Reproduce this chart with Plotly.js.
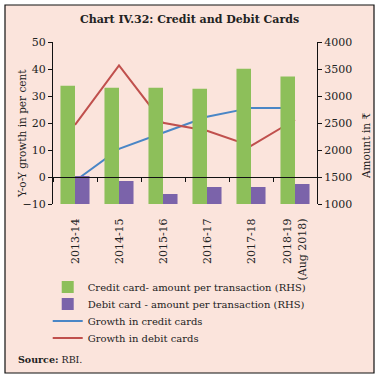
<!DOCTYPE html>
<html><head><meta charset="utf-8">
<script src="https://cdn.plot.ly/plotly-3.0.1.min.js"></script>
<style>html,body{margin:0;padding:0;background:#fff;}#c{width:379px;height:379px;}</style>
</head><body><div id="c"></div>
<script>
const categories = ["2013-14","2014-15","2015-16","2016-17","2017-18","2018-19<br>(Aug 2018)"];
const creditAmount = [3190, 3155, 3155, 3135, 3505, 3360];
const debitAmount = [1520, 1425, 1185, 1315, 1315, 1370];
const creditGrowth = [-1.5, 10.4, 16.4, 22.3, 25.6, 25.6];
const debitGrowth = [19.3, 41.3, 20.1, 17.1, 11.5, 21.2];
const leftTicks = [-10, 0, 10, 20, 30, 40, 50];
const rightTicks = [1000, 1500, 2000, 2500, 3000, 3500, 4000];

const serif = "DejaVu Serif";
const pink = "#fbe4dc";
const traces = [
  {type:"bar", name:"Credit card- amount per transaction (RHS)", x:categories, y:creditAmount, yaxis:"y2", marker:{color:"#8dbf5a"}, legend:"legend"},
  {type:"bar", name:"Debit card - amount per transaction (RHS)", x:categories, y:debitAmount, yaxis:"y2", marker:{color:"#7b63aa"}, legend:"legend2"},
  {type:"scatter", mode:"lines", name:"Growth in credit cards", x:categories, y:creditGrowth, line:{color:"#4a86c6", width:2}, legend:"legend3"},
  {type:"scatter", mode:"lines", name:"Growth in debit cards", x:categories, y:debitGrowth, line:{color:"#c0504d", width:2}, legend:"legend4"},
  {type:"scatter", mode:"lines", x:categories, y:creditGrowth, xaxis:"x2", showlegend:false, hoverinfo:"skip", line:{width:0}, opacity:0}
];
function leg(cy){
  return {x:-0.02, y:-(cy-204)/162, xanchor:"left", yanchor:"middle", bgcolor:"rgba(0,0,0,0)", borderwidth:0, font:{family:serif, size:10, color:"#222"}, itemwidth:30};
}
const layout = {
  width:379, height:379,
  margin:{l:53, r:62, t:42, b:175, pad:0},
  paper_bgcolor:"#ffffff", plot_bgcolor:"rgba(0,0,0,0)",
  font:{family:serif, size:10, color:"#222"},
  barmode:"group", bargap:0.34, bargroupgap:0,
  showlegend:true,
  legend:leg(287), legend2:leg(304), legend3:leg(321), legend4:leg(338),
  title:{text:"<b>Chart IV.32: Credit and Debit Cards</b>", x:0.5, xref:"container", xanchor:"center", y:1-19/379, yref:"container", yanchor:"middle", font:{family:serif, size:11, color:"#222"}},
  xaxis:{type:"category", showline:false, ticks:"outside", ticklen:9, tickcolor:"rgba(0,0,0,0)", tickangle:-90, tickfont:{family:serif, size:11, color:"#222"}, showgrid:false, zeroline:false},
  xaxis2:{type:"category", overlaying:"x", anchor:"free", position:1/6, showline:true, linecolor:"#111", linewidth:1, ticks:"outside", ticklen:4, tickcolor:"#111", tickson:"boundaries", showticklabels:false, showgrid:false, zeroline:false, matches:"x"},
  yaxis:{range:[-10,50], tickvals:leftTicks, showline:true, linecolor:"#111", linewidth:1, ticks:"outside", ticklen:4, tickcolor:"#111", showgrid:false, zeroline:false, tickfont:{family:serif, size:11, color:"#222"}},
  yaxis2:{range:[1000,4000], tickvals:rightTicks, overlaying:"y", side:"right", showline:true, linecolor:"#111", linewidth:1, ticks:"outside", ticklen:4, tickcolor:"#111", showgrid:false, zeroline:false, tickfont:{family:serif, size:11, color:"#222"}},
  shapes:[{type:"rect", xref:"paper", yref:"paper", layer:"below", x0:(5-53)/264, x1:(374-53)/264, y0:-(373-204)/162, y1:1+(42-5)/162, fillcolor:pink, line:{color:"#111", width:1.2}}],
  annotations:[
    {text:"Y-o-Y growth in per cent", xref:"paper", yref:"paper", x:(22-53)/264, y:(204-134)/162, textangle:-90, showarrow:false, xanchor:"center", yanchor:"middle", font:{family:serif, size:10.5, color:"#222"}},
    {text:"Amount in ₹", xref:"paper", yref:"paper", x:(366-53)/264, y:(204-146)/162, textangle:-90, showarrow:false, xanchor:"center", yanchor:"middle", font:{family:serif, size:10.5, color:"#222"}},
    {text:"<b>Source:</b> RBI.", xref:"paper", yref:"paper", x:(16-53)/264, y:-(359-204)/162, showarrow:false, xanchor:"left", yanchor:"middle", font:{family:serif, size:9.5, color:"#222"}}
  ]
};
Plotly.newPlot("c", traces, layout, {displayModeBar:false, staticPlot:true});
</script></body></html>
